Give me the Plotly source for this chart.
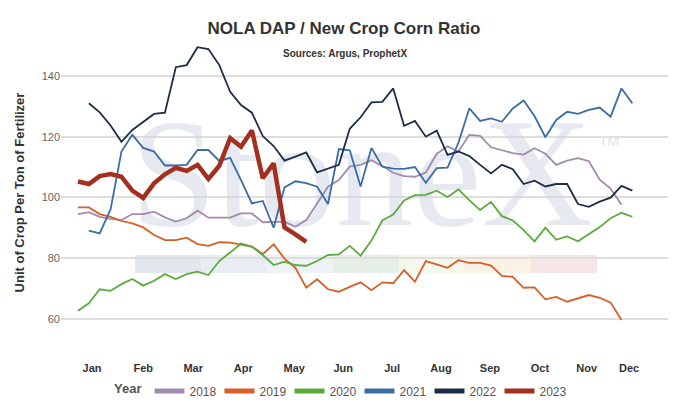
import plotly.graph_objects as go

# weekly NOLA DAP / new crop corn ratio
months = ["Jan", "Feb", "Mar", "Apr", "May", "Jun",
          "Jul", "Aug", "Sep", "Oct", "Nov", "Dec"]
month_weeks = [2.3, 7.0, 11.6, 16.2, 20.9, 25.4, 29.9, 34.4, 38.9, 43.5, 47.8, 51.7]

y2018 = [94.5, 95.1, 93.6, 92.9, 92.5, 94.5, 94.5, 95.3, 93.4, 92.0, 93.1, 95.6, 93.3,
         93.3, 93.3, 94.7, 94.7, 91.8, 91.8, 92.0, 90.3, 92.5, 98.0, 103.5, 105.7, 110.1,
         110.7, 112.2, 110.3, 108.1, 107.0, 106.8, 108.2, 114.3, 116.8, 115.1, 120.6,
         120.3, 116.5, 115.6, 114.6, 114.1, 116.2, 114.4, 110.7, 112.1, 112.9, 111.9,
         105.8, 102.9, 97.6]
y2019 = [96.7, 96.7, 94.5, 93.6, 92.2, 91.4, 90.1, 87.6, 85.9, 85.9, 86.7, 84.6, 84.0,
         85.2, 85.1, 84.5, 83.8, 81.3, 84.5, 79.8, 76.8, 70.2, 73.0, 69.7, 68.9, 70.5,
         72.0, 69.4, 72.0, 71.7, 76.0, 72.2, 79.0, 77.9, 76.8, 79.3, 78.4, 78.4, 77.5,
         74.1, 73.8, 70.2, 70.3, 66.4, 67.2, 65.6, 66.7, 67.8, 66.9, 65.3, 59.6]
y2020 = [62.6, 65.1, 69.7, 69.2, 71.4, 73.1, 70.9, 72.5, 74.7, 73.1, 74.7, 75.5, 74.4,
         79.0, 81.8, 84.8, 83.7, 81.0, 77.7, 78.8, 77.7, 77.4, 79.0, 81.0, 81.2, 84.0,
         80.8, 85.8, 92.4, 94.3, 99.0, 100.7, 100.8, 102.2, 100.1, 102.6, 99.1, 95.8,
         98.5, 93.8, 92.4, 89.2, 85.5, 90.0, 86.0, 87.1, 85.5, 88.0, 90.2, 93.1, 94.9,
         93.6]
y2021 = [89.0, 88.1, 96.0, 115.1, 120.6, 116.3, 115.1, 110.5, 110.5, 110.7, 115.6, 115.6,
         112.0, 113.0, 105.7, 98.0, 98.8, 90.0, 103.3, 105.3, 104.7, 103.5, 97.8, 115.9,
         115.5, 103.6, 116.3, 110.1, 109.5, 109.4, 110.0, 104.8, 109.6, 109.8, 118.0,
         129.3, 125.2, 126.0, 124.9, 129.3, 131.9, 126.8, 119.8, 125.5, 128.2, 127.5,
         128.8, 129.6, 126.6, 135.9, 131.0]
y2022 = [131.0, 128.0, 123.7, 118.3, 122.2, 124.9, 127.5, 127.9, 142.9, 143.6, 149.5,
         148.9, 143.6, 134.8, 130.4, 127.9, 120.2, 116.9, 112.1, 113.4, 114.8, 108.2,
         109.5, 110.7, 122.6, 126.4, 131.3, 131.5, 135.9, 123.6, 125.2, 120.0, 122.0,
         114.0, 115.1, 113.6, 110.7, 107.9, 110.7, 109.3, 104.4, 105.5, 103.6, 104.4,
         104.4, 97.8, 96.9, 98.6, 99.9, 103.8, 102.2]
y2023 = [105.2, 104.4, 107.0, 107.7, 106.8, 102.2, 99.8, 104.6, 107.6, 109.7, 108.7,
         110.7, 106.1, 110.4, 119.5, 116.7, 122.0, 106.3, 111.2, 90.1, 87.8, 85.3]

# first week of data for each year
start_week = {"2018": 1, "2019": 1, "2020": 1, "2021": 2, "2022": 2, "2023": 1}
values = {"2018": y2018, "2019": y2019, "2020": y2020,
          "2021": y2021, "2022": y2022, "2023": y2023}
colors = {"2018": "#a38bac", "2019": "#d65f2a", "2020": "#5dab3d",
          "2021": "#3a6ca5", "2022": "#1d2e48", "2023": "#a3301f"}

# plot area in pixels
L, R, T, B = 61, 668, 40, 345
W, H = 681, 409


def px(x):
    return (x - L) / (R - L)


def py(y):
    return (B - y) / (B - T)


fig = go.Figure()

# StoneX watermark text, drawn first so it sits behind the lines
fig.add_trace(go.Scatter(
    x=[27.1], y=[103.5], mode="text", text=["StoneX"],
    textfont=dict(family="Liberation Serif, DejaVu Serif, serif", size=154,
                  color="rgba(205,213,226,0.5)"),
    hoverinfo="skip", showlegend=False,
))

for yr, vals in values.items():
    wk = list(range(start_week[yr], start_week[yr] + len(vals)))
    fig.add_trace(go.Scatter(
        x=wk, y=vals, mode="lines", name=yr,
        line=dict(color=colors[yr], width=4.5 if yr == "2023" else 1.8),
        hoverinfo="skip",
    ))

# coloured band of the watermark logo
band_cols = ["#e3e7ee", "#e8ecf3", "#eef2f7", "#e6efe7", "#f7f8ec", "#fcf1e5", "#f6e5e5"]
edges = [135, 201, 267, 333, 399, 465, 531, 597]
shapes = []
for i, c in enumerate(band_cols):
    shapes.append(dict(type="rect", xref="paper", yref="paper",
                       x0=px(edges[i]), x1=px(edges[i + 1]), y0=py(273), y1=py(255),
                       fillcolor=c, line=dict(width=0), layer="below"))

fig.update_layout(
    width=W, height=H,
    margin=dict(l=L, r=W - R, t=T, b=H - B, autoexpand=False),
    paper_bgcolor="white", plot_bgcolor="white",
    font=dict(family="Liberation Sans, Arial, sans-serif", color="#333333"),
    title=dict(text="<b>NOLA DAP / New Crop Corn Ratio</b>", x=344 / W, xanchor="center",
               y=1 - 28 / H, yanchor="middle", font=dict(size=17, color="#333333")),
    shapes=shapes,
    annotations=[
        dict(text="<b>Sources: Argus, ProphetX</b>", xref="paper", yref="paper",
             x=px(345), y=py(46), showarrow=False, font=dict(size=10, color="#333333")),
        dict(text="TM", xref="paper", yref="paper", x=px(621), y=py(131),
             showarrow=False, font=dict(size=14, color="#dfe3ea")),
    ],
    xaxis=dict(range=[(L - 67.1) / 10.87, (R - 67.1) / 10.87], automargin=False,
               tickvals=month_weeks, ticktext=months, showgrid=False, zeroline=False,
               showline=False, ticks="outside", ticklen=13, tickcolor="rgba(0,0,0,0)",
               tickfont=dict(size=11, color="#333333", weight="bold")),
    yaxis=dict(range=[60 - (B - 318.7) * 20 / 60.7, 140 + (76 - T) * 20 / 60.7],
               automargin=False,
               tickvals=[60, 80, 100, 120, 140], showgrid=True, gridcolor="#dedede",
               gridwidth=1.5, zeroline=False, showline=False,
               tickfont=dict(size=11, color="#666666"),
               title=dict(text="<b>Unit of Crop Per Ton of Fertilizer</b>",
                          font=dict(size=13, color="#333333"), standoff=14)),
    legend=dict(orientation="h", x=px(341), xanchor="center", y=py(391), yanchor="middle",
                title=dict(text="<b>Year</b>", font=dict(size=13, color="#555555")),
                font=dict(size=12, color="#555555"), itemwidth=30, itemsizing="constant",
                entrywidth=25, entrywidthmode="pixels"),
    showlegend=True,
)

# drop the page's default body margin so the figure sits at the window's corner
fig.write_html("out.html", config={"displayModeBar": False},
               post_script="document.body.style.margin = '0';")
